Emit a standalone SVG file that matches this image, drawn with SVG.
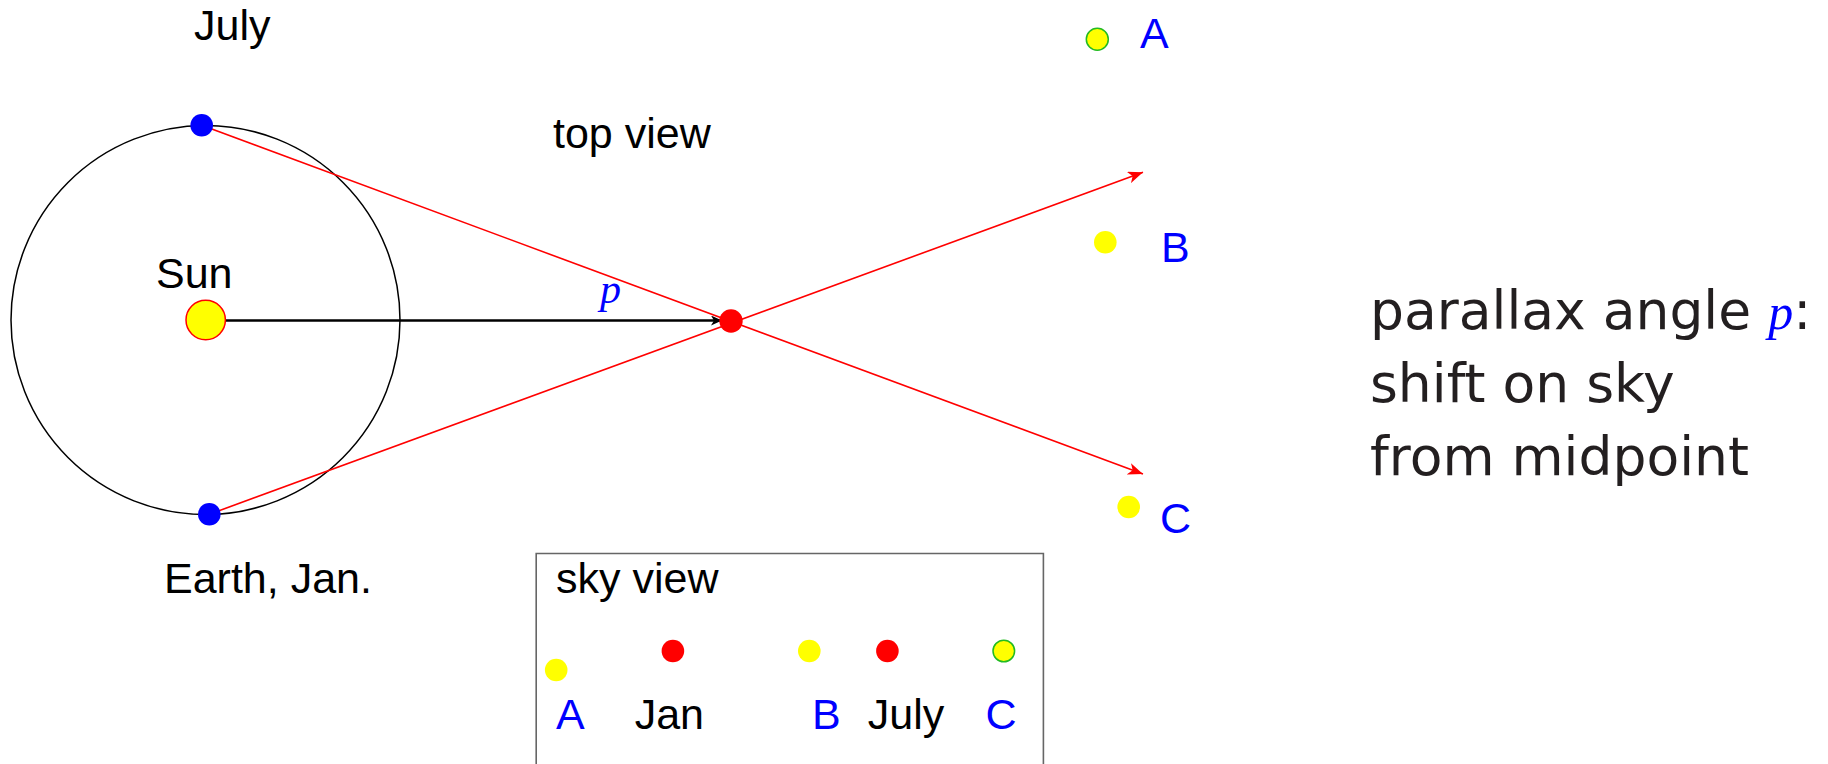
<svg xmlns="http://www.w3.org/2000/svg" width="1828" height="764" viewBox="0 0 1828 764">
<style>
.t{font-family:"Liberation Sans",Arial,sans-serif;font-size:43px;fill:#000}
.b{fill:#0000ff}
.m{font-family:"Liberation Serif","Times New Roman",serif;font-style:italic;fill:#0000ff}
.r{font-family:"DejaVu Sans",sans-serif;font-size:53.5px;fill:#231f20}
.star{fill:#ffff00}
.starg{fill:#ffff00;stroke:#22bb22;stroke-width:1.5}
.earth{fill:#0000ff}
.ray{stroke:#ff0000;stroke-width:1.6;fill:none}
</style>
<defs>
<marker id="ah" markerWidth="16" markerHeight="12" refX="15" refY="6" orient="auto" markerUnits="userSpaceOnUse">
<path d="M0,0 L15,6 L0,12 L4,6 Z" fill="#ff0000"/>
</marker>
<marker id="ak" markerWidth="12" markerHeight="10" refX="11" refY="5" orient="auto" markerUnits="userSpaceOnUse">
<path d="M0,0 L11,5 L0,10 L3,5 Z" fill="#000"/>
</marker>
</defs>
<rect width="1828" height="764" fill="#fff"/>
<g id="orbit"><circle cx="205.5" cy="320" r="194.5" fill="none" stroke="#000" stroke-width="1.5"/></g>
<g id="connectors">
<line class="ray" x1="201.7" y1="125.3" x2="1143" y2="474" marker-end="url(#ah)"/>
<line class="ray" x1="209.3" y1="514.3" x2="1143" y2="172.3" marker-end="url(#ah)"/>
<line x1="225" y1="320.5" x2="722" y2="320.5" stroke="#000" stroke-width="2.5" marker-end="url(#ak)"/>
</g>
<g id="sun"><circle cx="205.7" cy="320" r="19.7" fill="#ffff00" stroke="#ff0000" stroke-width="1.5"/><text class="t" x="156" y="288">Sun</text></g>
<g id="earth-july"><circle class="earth" cx="201.7" cy="125.3" r="11.3"/><text class="t" x="194" y="40">July</text></g>
<g id="earth-jan"><circle class="earth" cx="209.3" cy="514.3" r="11.3"/><text class="t" x="164" y="593">Earth, Jan.</text></g>
<g id="star"><circle cx="731" cy="321" r="11.7" fill="#ff0000"/></g>
<g id="p-label"><text class="m" x="600" y="303" font-size="42">p</text></g>
<g id="top-view"><text class="t" x="553" y="148">top view</text></g>
<g id="bgA"><circle class="starg" cx="1097.3" cy="39.3" r="11"/><text class="t b" x="1140" y="48">A</text></g>
<g id="bgB"><circle class="star" cx="1105.3" cy="242.3" r="11.3"/><text class="t b" x="1161" y="262">B</text></g>
<g id="bgC"><circle class="star" cx="1128.7" cy="507" r="11.3"/><text class="t b" x="1160" y="533">C</text></g>
<g id="sky-view">
<path d="M536.2,764 L536.2,553.5 L1043.4,553.5 L1043.4,764" fill="none" stroke="#666" stroke-width="1.6"/>
<text class="t" x="556" y="593">sky view</text>
<circle class="star" cx="556.2" cy="670" r="11.3"/>
<circle cx="672.9" cy="651" r="11.3" fill="#ff0000"/>
<circle class="star" cx="809.3" cy="651" r="11.3"/>
<circle cx="887.4" cy="651" r="11.3" fill="#ff0000"/>
<circle class="starg" cx="1003.8" cy="651" r="10.8"/>
<text class="t b" x="556" y="728.5">A</text>
<text class="t" x="634.7" y="728.5">Jan</text>
<text class="t b" x="812" y="728.5">B</text>
<text class="t" x="867.8" y="728.5">July</text>
<text class="t b" x="985.6" y="728.5">C</text>
</g>
<g id="caption">
<text class="r" x="1370" y="328.5">parallax angle <tspan class="m" font-size="50">p</tspan>:</text>
<text class="r" x="1370" y="401.5">shift on sky</text>
<text class="r" x="1370" y="474.5">from midpoint</text>
</g>
</svg>
